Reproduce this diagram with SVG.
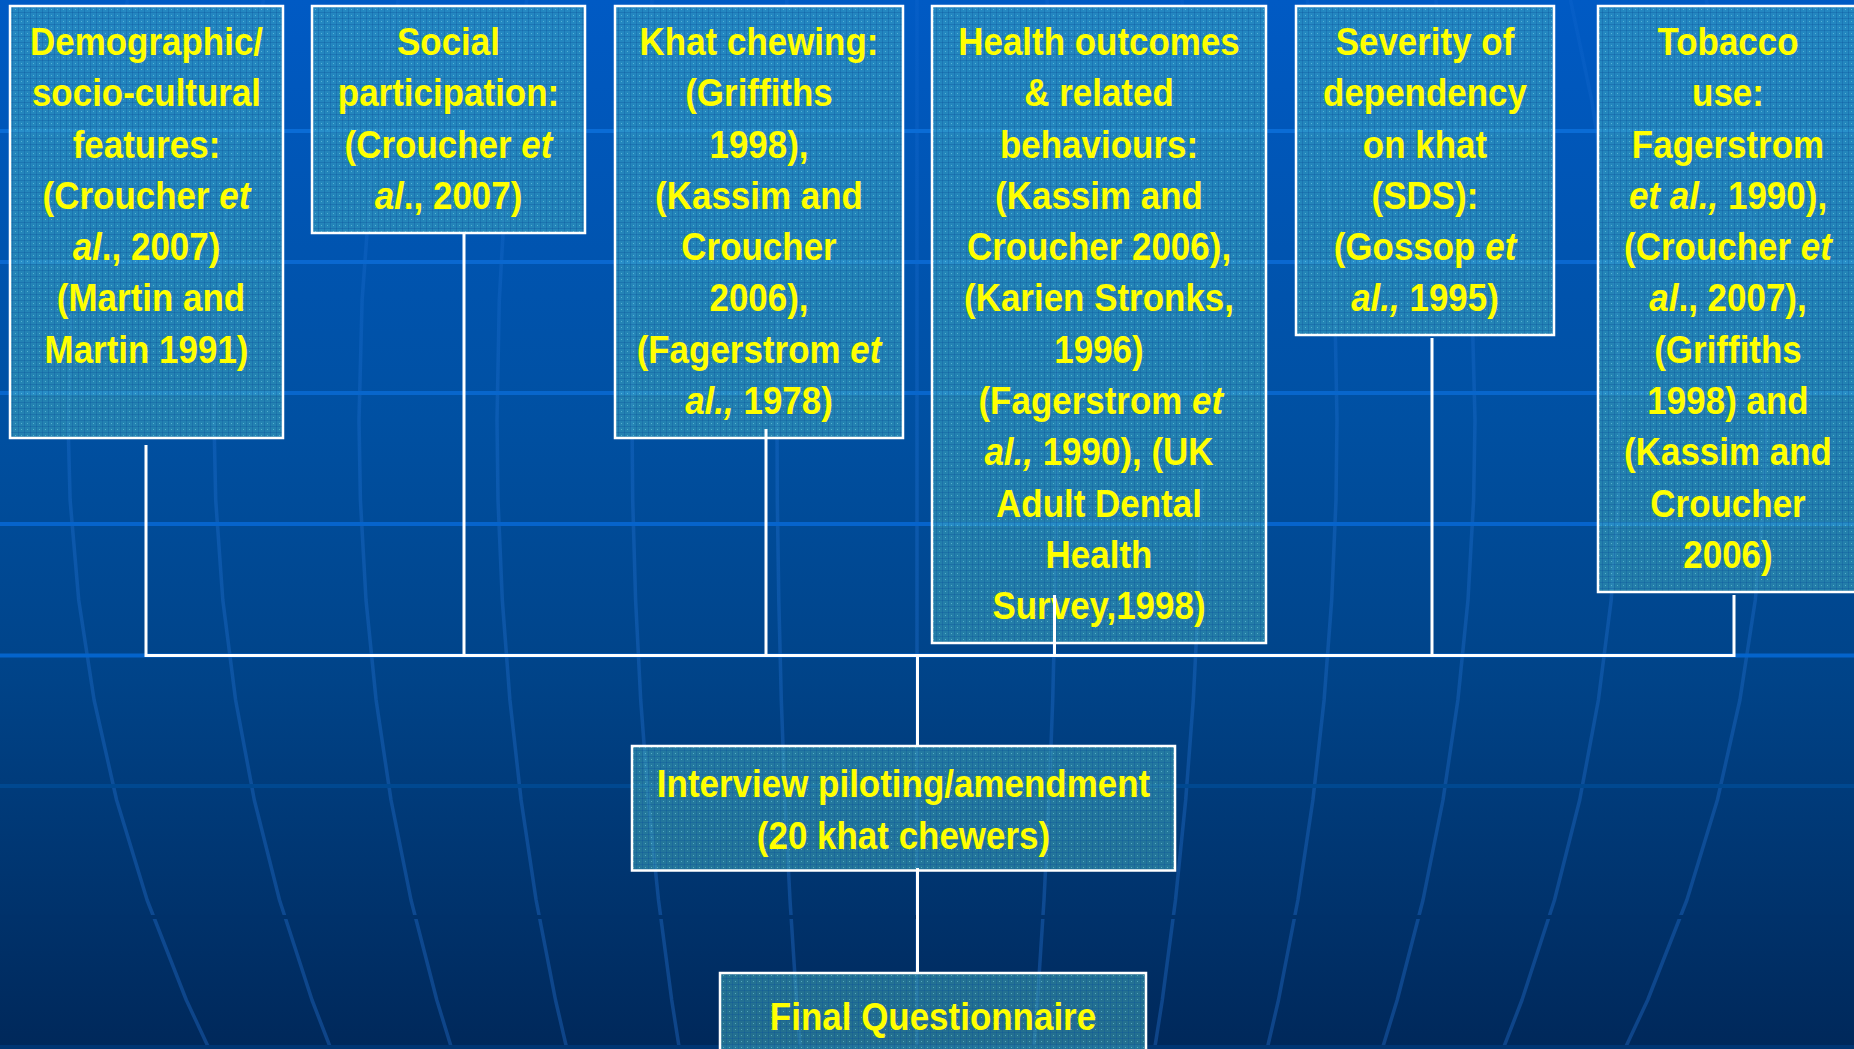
<svg xmlns="http://www.w3.org/2000/svg" width="1854" height="1049" viewBox="0 0 1854 1049">
<defs>
<linearGradient id="bg" x1="0" y1="0" x2="0" y2="1">
<stop offset="0" stop-color="#005ac4"/>
<stop offset="0.4" stop-color="#0050a2"/>
<stop offset="0.65" stop-color="#004388"/>
<stop offset="1" stop-color="#00285a"/>
</linearGradient>
<linearGradient id="merg" gradientUnits="userSpaceOnUse" x1="0" y1="0" x2="0" y2="1049">
<stop offset="0" stop-color="#2a7ae0" stop-opacity="0.12"/>
<stop offset="0.45" stop-color="#2a7ae0" stop-opacity="0.28"/>
<stop offset="1" stop-color="#2a7ae0" stop-opacity="0.34"/>
</linearGradient>
<pattern id="tex" width="6" height="6" patternUnits="userSpaceOnUse">
<rect width="6" height="6" fill="#46b0c0" fill-opacity="0.52"/>
<rect width="6" height="1" fill="#0b4f9a" fill-opacity="0.3"/>
<rect width="1" height="6" fill="#0b4f9a" fill-opacity="0.3"/>
<rect x="3" y="3" width="1" height="1" fill="#8fe6ee" fill-opacity="0.45"/>
</pattern>
<style>
.box{fill:url(#tex);stroke:#ffffff;stroke-width:2.5}
.t{font-family:"Liberation Sans",Arial,sans-serif;font-weight:bold;font-size:38.5px;fill:#ffff00;text-anchor:middle}
.i{font-style:italic}
.mer{fill:none;stroke:url(#merg);stroke-width:3.5;stroke-linejoin:round}
.hl{stroke-width:4}
.con{fill:none;stroke:#ffffff;stroke-width:3}
</style>
</defs>
<rect width="1854" height="1049" fill="url(#bg)"/>
<g id="meridians">
<path class="mer" d="M127.8 0L102.2 100L84 200L72.7 300L68 420L70.1 500L78.7 600L94.1 700L116.6 800L147.1 900L186.3 1000L209.2 1049"/>
<path class="mer" d="M263.5 0L242.3 100L227.2 200L217.9 300L214 420L215.7 500L222.8 600L235.6 700L254.3 800L279.5 900L312 1000L330.9 1049"/>
<path class="mer" d="M398.3 0L381.5 100L369.5 200L362.1 300L359 420L360.4 500L366 600L376.1 700L391 800L411 900L436.8 1000L451.8 1049"/>
<path class="mer" d="M526.6 0L513.9 100L504.9 200L499.3 300L497 420L498 500L502.3 600L509.9 700L521.1 800L536.1 900L555.5 1000L566.9 1049"/>
<path class="mer" d="M652.1 0L643.5 100L637.4 200L633.6 300L632 420L632.7 500L635.6 600L640.7 700L648.3 800L658.5 900L671.7 1000L679.4 1049"/>
<path class="mer" d="M786.9 0L782.6 100L779.6 200L777.8 300L777 420L777.3 500L778.8 600L781.3 700L785 800L790 900L796.5 1000L800.3 1049"/>
<path class="mer" d="M917 0V1049"/>
<path class="mer" d="M1047.1 0L1051.4 100L1054.4 200L1056.2 300L1057 420L1056.7 500L1055.2 600L1052.7 700L1049 800L1044 900L1037.5 1000L1033.7 1049"/>
<path class="mer" d="M1181.9 0L1190.5 100L1196.6 200L1200.4 300L1202 420L1201.3 500L1198.4 600L1193.3 700L1185.7 800L1175.5 900L1162.3 1000L1154.6 1049"/>
<path class="mer" d="M1307.4 0L1320.1 100L1329.1 200L1334.7 300L1337 420L1336 500L1331.7 600L1324.1 700L1312.9 800L1297.9 900L1278.5 1000L1267.1 1049"/>
<path class="mer" d="M1435.7 0L1452.5 100L1464.5 200L1471.9 300L1475 420L1473.6 500L1468 600L1457.9 700L1443 800L1423 900L1397.2 1000L1382.2 1049"/>
<path class="mer" d="M1570.5 0L1591.7 100L1606.8 200L1616.1 300L1620 420L1618.3 500L1611.2 600L1598.4 700L1579.7 800L1554.5 900L1522 1000L1503.1 1049"/>
<path class="mer" d="M1706.2 0L1731.8 100L1750 200L1761.3 300L1766 420L1763.9 500L1755.3 600L1739.9 700L1717.4 800L1686.9 900L1647.7 1000L1624.8 1049"/>
</g>
<g id="latitudes">
<path class="hl" stroke="#0a6cd6" d="M0 131H1854"/>
<path class="hl" stroke="#0a68d0" d="M0 262H1854"/>
<path class="hl" stroke="#0866cc" d="M0 393H1854"/>
<path class="hl" stroke="#0664cc" d="M0 524H1854"/>
<path class="hl" stroke="#0464cc" d="M0 655.5H1854"/>
<path class="hl" stroke="#004890" d="M0 786H1854"/>
<path class="hl" stroke="#00316a" d="M0 917H1854"/>
<path class="hl" stroke="#003572" d="M0 1047H1854"/>
</g>
<g id="n1-demographic">
<rect class="box" x="10" y="6" width="273" height="432"/>
<g transform="translate(146.5 0) scale(0.908 1)">
<text class="t" x="0" y="55">Demographic/</text>
<text class="t" x="0" y="106.3">socio-cultural</text>
<text class="t" x="0" y="157.6">features:</text>
<text class="t" x="0" y="208.9">(Croucher <tspan class="i">et</tspan></text>
<text class="t" x="0" y="260.2"><tspan class="i">al</tspan>., 2007)</text>
<text class="t" x="5" y="311.5">(Martin and</text>
<text class="t" x="0" y="362.8">Martin 1991)</text>
</g>
</g>
<g id="n2-social">
<rect class="box" x="312" y="6" width="273" height="227"/>
<g transform="translate(448.5 0) scale(0.908 1)">
<text class="t" x="0" y="55">Social</text>
<text class="t" x="0" y="106.3">participation:</text>
<text class="t" x="0" y="157.6">(Croucher <tspan class="i">et</tspan></text>
<text class="t" x="0" y="208.9"><tspan class="i">al</tspan>., 2007)</text>
</g>
</g>
<g id="n3-khat">
<rect class="box" x="615" y="6" width="288" height="432"/>
<g transform="translate(759 0) scale(0.908 1)">
<text class="t" x="0" y="55">Khat chewing:</text>
<text class="t" x="0" y="106.3">(Griffiths</text>
<text class="t" x="0" y="157.6">1998),</text>
<text class="t" x="0" y="208.9">(Kassim and</text>
<text class="t" x="0" y="260.2">Croucher</text>
<text class="t" x="0" y="311.5">2006),</text>
<text class="t" x="0" y="362.8">(Fagerstrom <tspan class="i">et</tspan></text>
<text class="t" x="0" y="414.1"><tspan class="i">al.,</tspan> 1978)</text>
</g>
</g>
<g id="n4-health">
<rect class="box" x="932" y="6" width="334" height="637"/>
<g transform="translate(1099 0) scale(0.908 1)">
<text class="t" x="0" y="55">Health outcomes</text>
<text class="t" x="0" y="106.3">&amp; related</text>
<text class="t" x="0" y="157.6">behaviours:</text>
<text class="t" x="0" y="208.9">(Kassim and</text>
<text class="t" x="0" y="260.2">Croucher 2006),</text>
<text class="t" x="0" y="311.5">(Karien Stronks,</text>
<text class="t" x="0" y="362.8">1996)</text>
<text class="t" x="2" y="414.1">(Fagerstrom <tspan class="i">et</tspan></text>
<text class="t" x="0" y="465.4"><tspan class="i">al.,</tspan> 1990), (UK</text>
<text class="t" x="0" y="516.7">Adult Dental</text>
<text class="t" x="0" y="568">Health</text>
<text class="t" x="0" y="619.3">Survey,1998)</text>
</g>
</g>
<g id="n5-severity">
<rect class="box" x="1296" y="6" width="258" height="329"/>
<g transform="translate(1425 0) scale(0.908 1)">
<text class="t" x="0" y="55">Severity of</text>
<text class="t" x="0" y="106.3">dependency</text>
<text class="t" x="0" y="157.6">on khat</text>
<text class="t" x="0" y="208.9">(SDS):</text>
<text class="t" x="0" y="260.2">(Gossop <tspan class="i">et</tspan></text>
<text class="t" x="0" y="311.5"><tspan class="i">al.,</tspan> 1995)</text>
</g>
</g>
<g id="n6-tobacco">
<rect class="box" x="1598" y="6" width="262" height="586"/>
<g transform="translate(1728 0) scale(0.908 1)">
<text class="t" x="0" y="55">Tobacco</text>
<text class="t" x="0" y="106.3">use:</text>
<text class="t" x="0" y="157.6">Fagerstrom</text>
<text class="t" x="0" y="208.9"><tspan class="i">et al.,</tspan> 1990),</text>
<text class="t" x="0" y="260.2">(Croucher <tspan class="i">et</tspan></text>
<text class="t" x="0" y="311.5"><tspan class="i">al</tspan>., 2007),</text>
<text class="t" x="0" y="362.8">(Griffiths</text>
<text class="t" x="0" y="414.1">1998) and</text>
<text class="t" x="0" y="465.4">(Kassim and</text>
<text class="t" x="0" y="516.7">Croucher</text>
<text class="t" x="0" y="568">2006)</text>
</g>
</g>
<g id="n7-interview">
<rect class="box" x="632" y="746" width="543" height="124.5"/>
<g transform="translate(903.5 0) scale(0.908 1)">
<text class="t" x="0" y="797">Interview piloting/amendment</text>
<text class="t" x="0" y="849.5">(20 khat chewers)</text>
</g>
</g>
<g id="n8-final">
<rect class="box" x="720" y="973" width="426" height="90"/>
<g transform="translate(933 0) scale(0.908 1)">
<text class="t" x="0" y="1030">Final Questionnaire</text>
</g>
</g>
<g id="connectors">
<path class="con" d="M146 445V655.5H1734V595"/>
<path class="con" d="M464 233V655.5"/>
<path class="con" d="M766 429V655.5"/>
<path class="con" d="M1054.5 595V655.5"/>
<path class="con" d="M1432 338V655.5"/>
<path class="con" d="M917.5 655.5V746"/>
<path class="con" d="M917.5 868V973"/>
</g>
</svg>
